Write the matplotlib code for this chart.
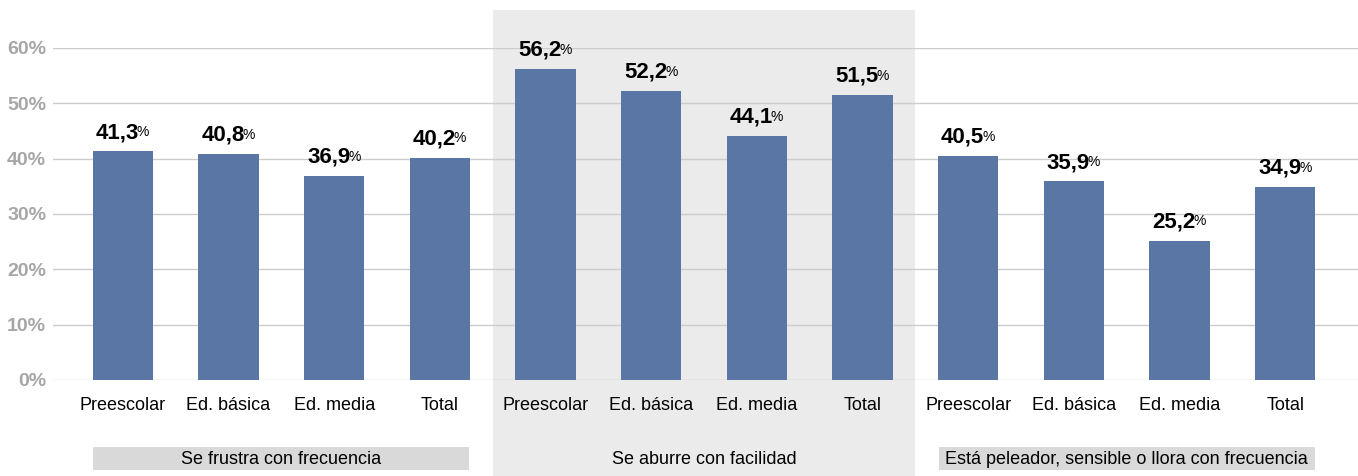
import matplotlib.pyplot as plt
import matplotlib.transforms as mtransforms
from matplotlib.patches import Rectangle
import numpy as np

plt.rcParams['font.family'] = ['Liberation Sans', 'DejaVu Sans']

groups = ['Se frustra con frecuencia', 'Se aburre con facilidad',
          'Está peleador, sensible o llora con frecuencia']
levels = ['Preescolar', 'Ed. básica', 'Ed. media', 'Total']
values = [
    [41.3, 40.8, 36.9, 40.2],
    [56.2, 52.2, 44.1, 51.5],
    [40.5, 35.9, 25.2, 34.9],
]
yticks = [0, 10, 20, 30, 40, 50, 60]

bar_color = '#5a76a4'
band_color = '#ebebeb'
box_color = '#d9d9d9'
bw = 0.57

fig = plt.figure(figsize=(13.58, 4.76), dpi=100)
ax = fig.add_axes([53 / 1358, 1 - 380 / 476, 1 - 53 / 1358, 332 / 476])
ax.set_facecolor('none')

vals = np.array(values).ravel()
x = np.arange(len(vals))
ax.bar(x, vals, width=bw, color=bar_color, zorder=2)

ax.set_xlim(-0.5 - 17 / 105.7, 11.5 + 20 / 105.7)
ax.set_ylim(0, 60)
ax.set_yticks(yticks)
ax.set_yticklabels([f'{t}%' for t in yticks], color='#a6a6a6',
                   fontweight='bold', fontsize=14)
ax.set_xticks(x)
ax.set_xticklabels(levels * len(groups), fontsize=13)
ax.tick_params(axis='both', length=0)
ax.tick_params(axis='x', pad=12)
ax.tick_params(axis='y', pad=5)
ax.yaxis.grid(True, color='#cccccc', linewidth=1.0, zorder=1)
ax.set_axisbelow(True)
for s in ax.spines.values():
    s.set_visible(False)

# shaded middle group, spanning whole height of the figure
tr = mtransforms.blended_transform_factory(ax.transData, fig.transFigure)
ax.add_patch(Rectangle((3.5, 0), 4, 1 - 10 / 476, transform=tr,
                       facecolor=band_color, edgecolor='none',
                       clip_on=False, zorder=0))

# value labels: bold number + small percent sign
for xi, v in zip(x, vals):
    t = ax.annotate(f'{v:.1f}'.replace('.', ','), (xi, v),
                    xytext=(-4, 6), textcoords='offset points',
                    ha='center', va='bottom', fontsize=16,
                    fontweight='bold', zorder=3)
    ax.annotate('%', xy=(1, 0.85), xycoords=t, xytext=(-1.5, 0),
                textcoords='offset points', ha='left', va='top',
                fontsize=10, zorder=3)

# group labels
for gi, g in enumerate(groups):
    cx = gi * 4 + 1.5
    if gi != 1:
        ax.add_patch(Rectangle((gi * 4 - 0.28, 1 - 470 / 476), 3.56,
                               23 / 476, transform=tr, facecolor=box_color,
                               edgecolor='none', clip_on=False, zorder=1))
    ax.text(cx, 1 - 459 / 476, g, transform=tr, ha='center',
            va='center', fontsize=13)

fig.savefig('out.png', dpi=100)
